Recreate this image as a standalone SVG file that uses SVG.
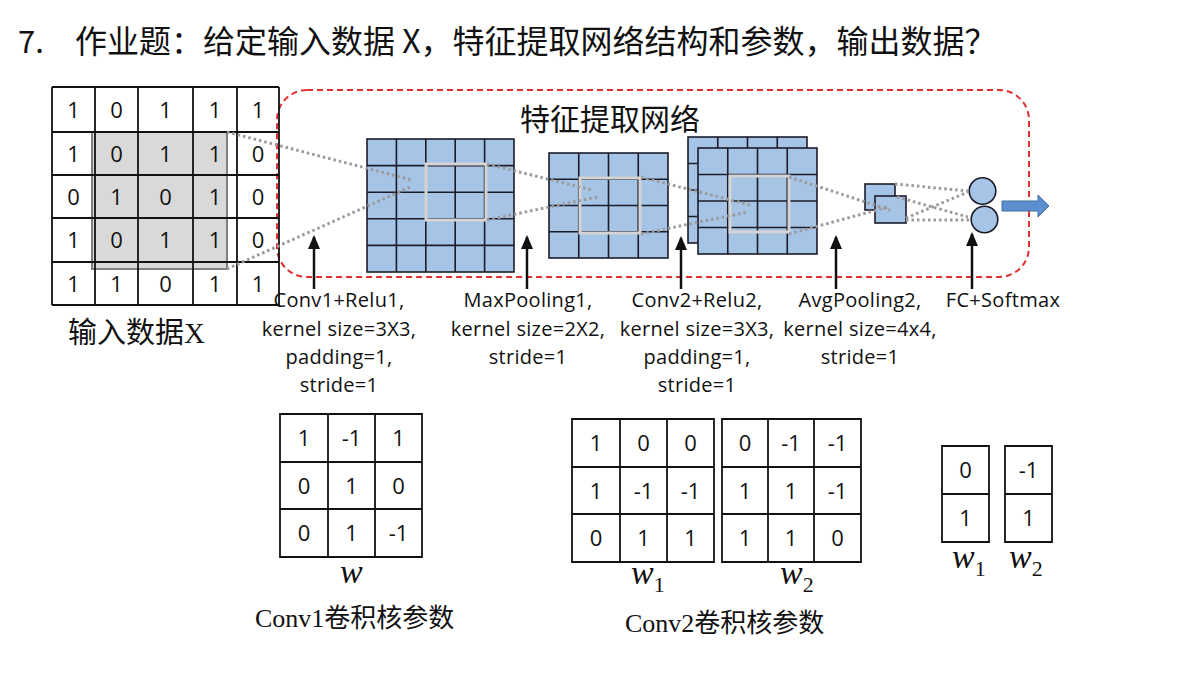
<svg xmlns="http://www.w3.org/2000/svg" width="1200" height="692" viewBox="0 0 1200 692">
<defs>
<style>
.cell{fill:#a6c4e6;stroke:#1c1c28;stroke-width:1.6}
.gl{stroke:#1c1c28;stroke-width:1.6;fill:none}
.bl{stroke:#111;stroke-width:1.8;fill:none}
.hl{fill:none;stroke:#d4d4d4;stroke-width:3}
.dot{stroke:#9a9a9a;stroke-width:3;stroke-dasharray:2.5 3;fill:none}
.lbl{font-family:"Open Sans","Liberation Sans",sans-serif;font-size:20px;letter-spacing:0.3px;fill:#111;text-anchor:middle}
.num{font-family:"Open Sans","Liberation Sans",sans-serif;font-size:22px;fill:#111;text-anchor:middle}
.ser{font-family:"Liberation Serif","Noto Sans CJK SC",serif;fill:#111}
.wi{font-family:"Liberation Serif",serif;font-style:italic;font-size:34px;fill:#111}
.sub{font-family:"Liberation Serif",serif;font-style:normal;font-size:22px}
.arr{stroke:#111;stroke-width:2.5;fill:none}
</style>
<marker id="ah" markerUnits="userSpaceOnUse" markerWidth="14" markerHeight="12" refX="12" refY="6" orient="auto" viewBox="0 0 14 12">
<path d="M0,0 L14,6 L0,12 Z" fill="#111"/>
</marker>
</defs>
<rect width="1200" height="692" fill="#fff"/>

<text x="18" y="53" font-family="'Noto Sans CJK SC',sans-serif" font-size="31" fill="#111">7.</text>
<text x="75" y="53" font-family="'Noto Sans CJK SC',sans-serif" font-size="32" fill="#111">作业题：给定输入数据 X，特征提取网络结构和参数，输出数据？</text>

<g id="network-box">
<rect x="277" y="90" width="752" height="187" rx="30" ry="30" fill="none" stroke="#e03030" stroke-width="2" stroke-dasharray="6 4"/>
<text x="520" y="130" font-family="'Noto Sans CJK SC',sans-serif" font-size="30" fill="#111">特征提取网络</text>
</g>

<g id="input">
<rect x="92" y="132" width="135" height="137" fill="#d9d9d9" stroke="#7f7f7f" stroke-width="2"/>
<path class="bl" d="M52,87V305M95,87V305M138,87V305M193,87V305M237,87V305M279,87V305M52,87H279M52,132H279M52,175H279M52,218H279M52,262H279M52,305H279"/>
<g class="num">
<text x="73.5" y="117.5">1</text><text x="116.5" y="117.5">0</text><text x="165.5" y="117.5">1</text><text x="215" y="117.5">1</text><text x="258" y="117.5">1</text>
<text x="73.5" y="161.5">1</text><text x="116.5" y="161.5">0</text><text x="165.5" y="161.5">1</text><text x="215" y="161.5">1</text><text x="258" y="161.5">0</text>
<text x="73.5" y="204.5">0</text><text x="116.5" y="204.5">1</text><text x="165.5" y="204.5">0</text><text x="215" y="204.5">1</text><text x="258" y="204.5">0</text>
<text x="73.5" y="248">1</text><text x="116.5" y="248">0</text><text x="165.5" y="248">1</text><text x="215" y="248">1</text><text x="258" y="248">0</text>
<text x="73.5" y="291.5">1</text><text x="116.5" y="291.5">1</text><text x="165.5" y="291.5">0</text><text x="215" y="291.5">1</text><text x="258" y="291.5">1</text>
</g>
<text class="ser" x="68" y="343" font-size="29">输入数据X</text>
</g>

<g id="conv1-map">
<rect class="cell" x="367" y="139" width="147" height="133"/>
<path class="gl" d="M396.4,139V272M425.8,139V272M455.2,139V272M484.6,139V272M367,165.6H514M367,192.2H514M367,218.8H514M367,245.4H514"/>
<rect class="hl" x="426" y="164" width="60" height="56"/>
</g>

<g id="pool1-map">
<rect class="cell" x="549" y="153" width="119" height="105"/>
<path class="gl" d="M578.75,153V258M608.5,153V258M638.25,153V258M549,179.25H668M549,205.5H668M549,231.75H668"/>
<rect class="hl" x="580" y="178" width="60" height="55"/>
</g>

<g id="conv2-map">
<rect class="cell" x="688" y="137" width="119" height="106"/>
<path class="gl" d="M717.75,137V243M747.5,137V243M777.25,137V243M688,163.5H807M688,190H807M688,216.5H807"/>
<rect class="cell" x="698" y="148" width="119" height="106"/>
<path class="gl" d="M727.75,148V254M757.5,148V254M787.25,148V254M698,174.5H817M698,201H817M698,227.5H817"/>
<rect class="hl" x="730" y="176" width="59" height="56"/>
</g>

<g id="pool2-map">
<rect class="cell" x="865" y="184" width="30" height="26"/>
<rect class="cell" x="875" y="196" width="31" height="27"/>
</g>

<g id="fc">
<circle cx="982.5" cy="191" r="13.3" fill="#a6c4e6" stroke="#1c1c28" stroke-width="1.6"/>
<circle cx="984.5" cy="219.5" r="13.3" fill="#a6c4e6" stroke="#1c1c28" stroke-width="1.6"/>
<path d="M1002,201 L1038,201 L1038,195 L1049,206 L1038,217 L1038,211 L1002,211 Z" fill="#5b8fd0" stroke="#41719c" stroke-width="1"/>
</g>

<g id="connectors">
<path class="dot" d="M227,132L412,180M227,269L410,187"/>
<path class="dot" d="M487,164L592,190M487,220L597,197"/>
<path class="dot" d="M641,177L750,205M641,234L748,212"/>
<path class="dot" d="M789,177L890,210M789,234L888,207"/>
<path class="dot" d="M895,184L968,191M897,197L968,217M906,218L968,192M906,220L970,220"/>
<path class="arr" marker-end="url(#ah)" d="M314,289V237"/>
<path class="arr" marker-end="url(#ah)" d="M527,289V237"/>
<path class="arr" marker-end="url(#ah)" d="M681,289V238"/>
<path class="arr" marker-end="url(#ah)" d="M836,289V237"/>
<path class="arr" marker-end="url(#ah)" d="M972,289V234"/>
</g>

<g id="layer-labels" class="lbl">
<text x="339" y="307">Conv1+Relu1,</text>
<text x="339" y="336">kernel size=3X3,</text>
<text x="339" y="364">padding=1,</text>
<text x="339" y="392">stride=1</text>
<text x="528" y="307">MaxPooling1,</text>
<text x="528" y="336">kernel size=2X2,</text>
<text x="528" y="364">stride=1</text>
<text x="697" y="307">Conv2+Relu2,</text>
<text x="697" y="336">kernel size=3X3,</text>
<text x="697" y="364">padding=1,</text>
<text x="697" y="392">stride=1</text>
<text x="860" y="307">AvgPooling2,</text>
<text x="860" y="336">kernel size=4x4,</text>
<text x="860" y="364">stride=1</text>
<text x="1003" y="307">FC+Softmax</text>
</g>

<g id="conv1-kernel">
<path class="bl" d="M280,414H422V557H280ZM328,414V557M375,414V557M280,462H422M280,509H422"/>
<g class="num">
<text x="304" y="446">1</text><text x="351.5" y="446">-1</text><text x="398.5" y="446">1</text>
<text x="304" y="493.5">0</text><text x="351.5" y="493.5">1</text><text x="398.5" y="493.5">0</text>
<text x="304" y="541">0</text><text x="351.5" y="541">1</text><text x="398.5" y="541">-1</text>
</g>
<text class="wi" x="340" y="583">w</text>
<text class="ser" x="255" y="627" font-size="26">Conv1卷积核参数</text>
</g>

<g id="conv2-kernels">
<path class="bl" d="M572,419H714V562H572ZM620,419V562M667,419V562M572,467H714M572,514H714"/>
<path class="bl" d="M722,419H861V562H722ZM768,419V562M814,419V562M722,467H861M722,514H861"/>
<g class="num">
<text x="596" y="451">1</text><text x="643.5" y="451">0</text><text x="690.5" y="451">0</text>
<text x="596" y="498.5">1</text><text x="643.5" y="498.5">-1</text><text x="690.5" y="498.5">-1</text>
<text x="596" y="546">0</text><text x="643.5" y="546">1</text><text x="690.5" y="546">1</text>
<text x="745" y="451">0</text><text x="791" y="451">-1</text><text x="837.5" y="451">-1</text>
<text x="745" y="498.5">1</text><text x="791" y="498.5">1</text><text x="837.5" y="498.5">-1</text>
<text x="745" y="546">1</text><text x="791" y="546">1</text><text x="837.5" y="546">0</text>
</g>
<text class="wi" x="631" y="584">w<tspan class="sub" dy="8">1</tspan></text>
<text class="wi" x="780" y="584">w<tspan class="sub" dy="8">2</tspan></text>
<text class="ser" x="625" y="632" font-size="26">Conv2卷积核参数</text>
</g>

<g id="fc-weights">
<path class="bl" d="M942,446H989V542H942ZM942,494H989"/>
<path class="bl" d="M1005,446H1052V542H1005ZM1005,494H1052"/>
<g class="num">
<text x="965.5" y="478">0</text><text x="965.5" y="526">1</text>
<text x="1028.5" y="478">-1</text><text x="1028.5" y="526">1</text>
</g>
<text class="wi" x="952" y="568">w<tspan class="sub" dy="8">1</tspan></text>
<text class="wi" x="1009" y="568">w<tspan class="sub" dy="8">2</tspan></text>
</g>
</svg>
